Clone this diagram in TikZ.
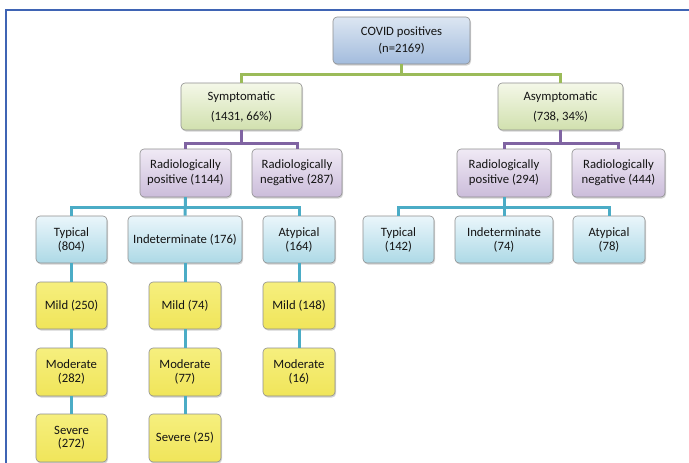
\documentclass[tikz,border=0pt]{standalone}
\usepackage{fontspec}
\setmainfont{Carlito}
\usetikzlibrary{shadows}
\definecolor{frameblue}{HTML}{3F64B4}
\definecolor{bordgray}{HTML}{8F8F8F}
\definecolor{txt}{HTML}{141414}
\definecolor{covtop}{HTML}{DCE6F2}
\definecolor{covbot}{HTML}{A3BCDD}
\definecolor{grtop}{HTML}{F4F8E8}
\definecolor{grbot}{HTML}{D1E0AE}
\definecolor{putop}{HTML}{F0EAF5}
\definecolor{pubot}{HTML}{CBBCDA}
\definecolor{bltop}{HTML}{EAF6FB}
\definecolor{blbot}{HTML}{ADD9E6}
\definecolor{yetop}{HTML}{F6EF7E}
\definecolor{yebot}{HTML}{F0E55A}
\definecolor{lgreen}{HTML}{9BBB59}
\definecolor{lpurple}{HTML}{8064A2}
\definecolor{lblue}{HTML}{4BACC6}
\tikzset{
  box/.style={draw=bordgray, line width=0.6pt, rounded corners=4pt,
    align=center, inner sep=1pt, text=txt,
    font=\fontsize{12.7}{14.5}\selectfont,
    drop shadow={shadow xshift=1pt, shadow yshift=-1.5pt, opacity=0.35}},
  covbox/.style={box, top color=covtop, bottom color=covbot, font=\fontsize{12.7}{17.5}\selectfont},
  grbox/.style={box, top color=grtop, bottom color=grbot, font=\fontsize{12.7}{20}\selectfont},
  pubox/.style={box, top color=putop, bottom color=pubot, font=\fontsize{12.7}{15}\selectfont},
  blbox/.style={box, top color=bltop, bottom color=blbot, font=\fontsize{12.7}{14}\selectfont},
  yebox/.style={box, top color=yetop, bottom color=yebot, font=\fontsize{12.7}{13.5}\selectfont},
  conn/.style={line width=3pt},
  gline/.style={conn, draw=lgreen},
  pline/.style={conn, draw=lpurple},
  bline/.style={conn, draw=lblue},
}
\begin{document}
\begin{tikzpicture}[x=1pt, y=-1pt]
\useasboundingbox (0,0) rectangle (689,463);
\draw[frameblue, line width=2pt] (5.5,470) -- (5.5,9.5) -- (695,9.5);

% level 0
\node[covbox, minimum width=137pt, minimum height=47pt] (covid) at (401.5,40.5) {COVID positives\\(n=2169)};
% level 1
\node[grbox, minimum width=121pt, minimum height=47pt] (sym) at (241.5,106.5) {Symptomatic\\(1431, 66\%)};
\node[grbox, minimum width=125pt, minimum height=47pt] (asym) at (560.5,106.5) {Asymptomatic\\(738, 34\%)};
% level 2
\node[pubox, minimum width=91pt, minimum height=48pt] (rps) at (185.5,173) {Radiologically\\positive (1144)};
\node[pubox, minimum width=90pt, minimum height=48pt] (rns) at (297,173) {Radiologically\\negative (287)};
\node[pubox, minimum width=94pt, minimum height=48pt] (rpa) at (504,173) {Radiologically\\positive (294)};
\node[pubox, minimum width=93pt, minimum height=48pt] (rna) at (618.5,173) {Radiologically\\negative (444)};
% level 3
\node[blbox, minimum width=71pt, minimum height=47pt] (ts) at (71.5,239.5) {Typical\\(804)};
\node[blbox, minimum width=114pt, minimum height=47pt] (is) at (185,239.5) {Indeterminate (176)};
\node[blbox, minimum width=72pt, minimum height=47pt] (as) at (299,239.5) {Atypical\\(164)};
\node[blbox, minimum width=71pt, minimum height=47pt] (ta) at (398.5,239.5) {Typical\\(142)};
\node[blbox, minimum width=98pt, minimum height=47pt] (ia) at (504,239.5) {Indeterminate\\(74)};
\node[blbox, minimum width=72pt, minimum height=47pt] (aa) at (609,239.5) {Atypical\\(78)};
% level 4
\node[yebox, minimum width=71pt, minimum height=47pt] (m1) at (71.5,305.5) {Mild (250)};
\node[yebox, minimum width=72pt, minimum height=47pt] (m2) at (185,305.5) {Mild (74)};
\node[yebox, minimum width=72pt, minimum height=47pt] (m3) at (299,305.5) {Mild (148)};
\node[yebox, minimum width=71pt, minimum height=48pt] (mo1) at (71.5,372) {Moderate\\(282)};
\node[yebox, minimum width=72pt, minimum height=48pt] (mo2) at (185,372) {Moderate\\(77)};
\node[yebox, minimum width=72pt, minimum height=48pt] (mo3) at (299,372) {Moderate\\(16)};
\node[yebox, minimum width=71pt, minimum height=48pt] (s1) at (71.5,438) {Severe\\(272)};
\node[yebox, minimum width=72pt, minimum height=48pt] (s2) at (185,438) {Severe (25)};

% connectors
\draw[gline] (covid.south) -- ++(0,10) -| (sym.north);
\draw[gline] (covid.south) -- ++(0,10) -| (asym.north);
\draw[pline] (sym.south) -- ++(0,13) -| (rps.north);
\draw[pline] (sym.south) -- ++(0,13) -| (rns.north);
\draw[pline] (asym.south) -- ++(0,13) -| (rpa.north);
\draw[pline] (asym.south) -- ++(0,13) -| (rna.north);
\draw[bline] (rps.south) -- ++(0,10) -| (ts.north);
\draw[bline] (rps.south) -- (is.north);
\draw[bline] (rps.south) -- ++(0,10) -| (as.north);
\draw[bline] (rpa.south) -- ++(0,10) -| (ta.north);
\draw[bline] (rpa.south) -- (ia.north);
\draw[bline] (rpa.south) -- ++(0,10) -| (aa.north);
\draw[bline] (ts.south) -- (m1.north);
\draw[bline] (is.south) -- (m2.north);
\draw[bline] (as.south) -- (m3.north);
\draw[bline] (m1.south) -- (mo1.north);
\draw[bline] (m2.south) -- (mo2.north);
\draw[bline] (m3.south) -- (mo3.north);
\draw[bline] (mo1.south) -- (s1.north);
\draw[bline] (mo2.south) -- (s2.north);
\end{tikzpicture}
\end{document}
